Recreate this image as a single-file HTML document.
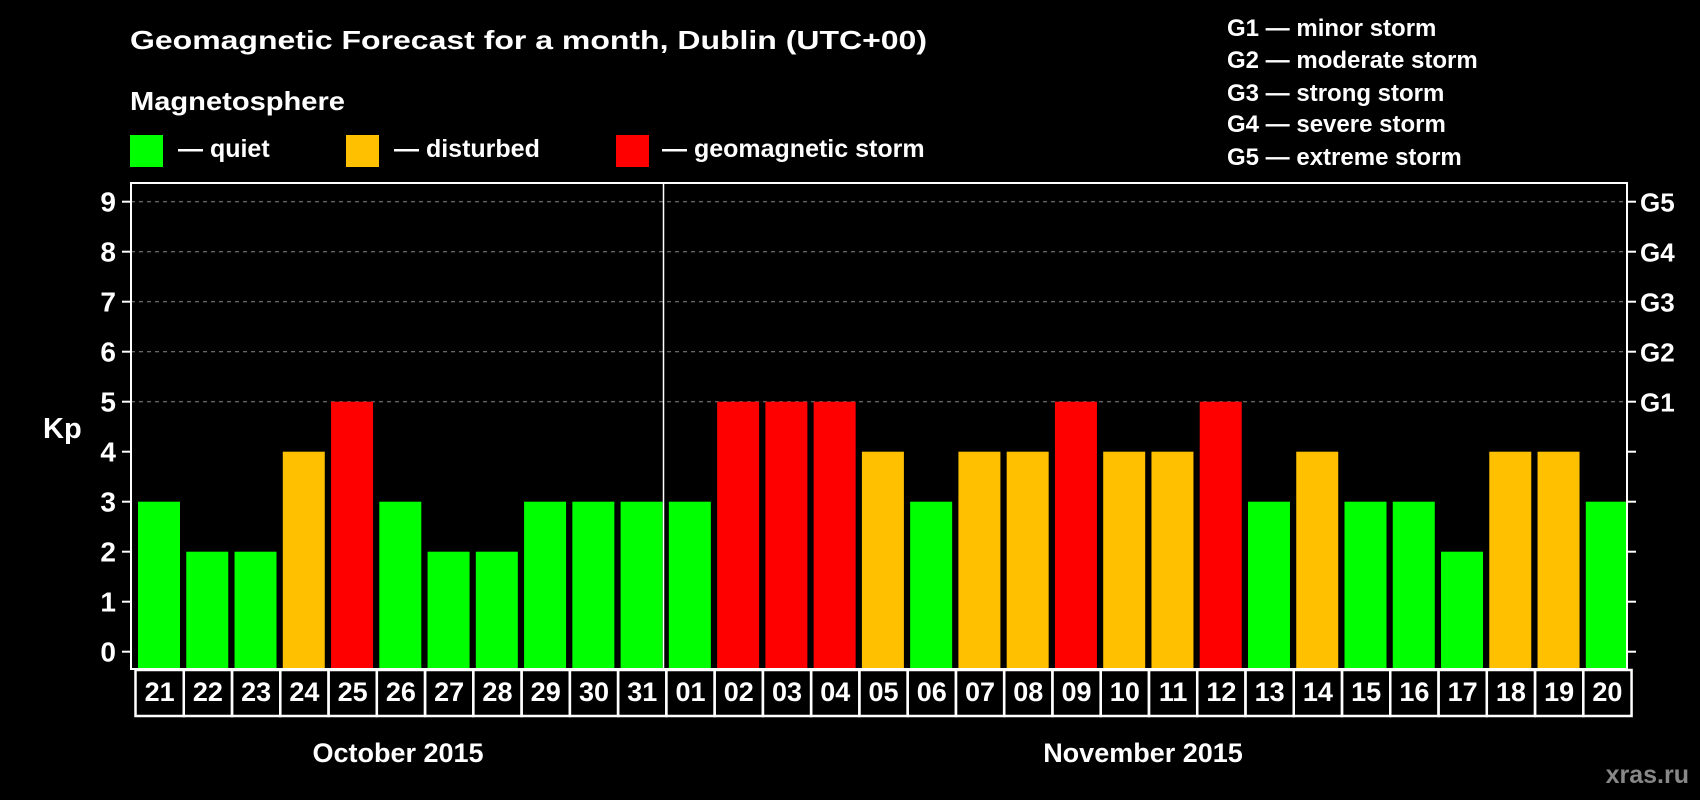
<!DOCTYPE html>
<html><head><meta charset="utf-8"><style>
html,body{margin:0;padding:0;background:#000;}
svg{display:block;font-family:"Liberation Sans",Arial,sans-serif;font-weight:bold;}
</style></head><body>
<svg id="chart" width="1700" height="800" viewBox="0 0 1700 800" xmlns="http://www.w3.org/2000/svg">
<rect x="0" y="0" width="1700" height="800" fill="#000"/>
<text x="130" y="49" fill="#fff" font-size="26" textLength="797" lengthAdjust="spacingAndGlyphs">Geomagnetic Forecast for a month, Dublin (UTC+00)</text>
<text x="130" y="110" fill="#fff" font-size="26" textLength="215" lengthAdjust="spacingAndGlyphs">Magnetosphere</text>
<g>
<rect x="130" y="135" width="33" height="32" fill="#00ff00"/>
<text x="178" y="157" fill="#fff" font-size="25">— quiet</text></g>
<g>
<rect x="346" y="135" width="33" height="32" fill="#ffc000"/>
<text x="394" y="157" fill="#fff" font-size="25">— disturbed</text></g>
<g>
<rect x="616" y="135" width="33" height="32" fill="#ff0000"/>
<text x="662" y="157" fill="#fff" font-size="25">— geomagnetic storm</text></g>
<g fill="#fff" font-size="24">
<text x="1227" y="36">G1 — minor storm</text>
<text x="1227" y="68">G2 — moderate storm</text>
<text x="1227" y="101">G3 — strong storm</text>
<text x="1227" y="132">G4 — severe storm</text>
<text x="1227" y="165">G5 — extreme storm</text>
</g>
<text x="43" y="438" fill="#fff" font-size="29">Kp</text>
<g id="grid"></g>
<g id="bars"></g>
<rect x="131" y="183" width="1496" height="486" fill="none" stroke="#fff" stroke-width="2"/>
<line x1="663.5" y1="183" x2="663.5" y2="669" stroke="#fff" stroke-width="1.5"/>
<g id="axes"></g>
<text x="398" y="762" fill="#fff" font-size="27" text-anchor="middle">October 2015</text>
<text x="1143" y="762" fill="#fff" font-size="27" text-anchor="middle">November 2015</text>
<text x="1689" y="783" fill="#888" font-size="25" text-anchor="end">xras.ru</text>
</svg>
<script>
const days = ["21","22","23","24","25","26","27","28","29","30","31","01","02","03","04","05","06","07","08","09","10","11","12","13","14","15","16","17","18","19","20"];
const kpValues = [3,2,2,4,5,3,2,2,3,3,3,3,5,5,5,4,3,4,4,5,4,4,5,3,4,3,3,2,4,4,3];
const yTicks = [0,1,2,3,4,5,6,7,8,9];
const gLabels = ["","","","","","G1","G2","G3","G4","G5"];
const NS="http://www.w3.org/2000/svg";
const left=131, right=1627, slot=48.26;
const y=v=>651.7-v*50;
const xs=i=>left+7+i*slot;
function mk(t,a,p){const e=document.createElementNS(NS,t);for(const k in a)e.setAttribute(k,a[k]);p.appendChild(e);return e;}
const grid=document.getElementById('grid'),bars=document.getElementById('bars'),axes=document.getElementById('axes');
yTicks.forEach((v,i)=>{
  if(v>=5){const l=mk('line',{x1:left,x2:right,y1:y(v),y2:y(v),stroke:'#888','stroke-dasharray':'4,4','stroke-width':1},grid);
  
  }
  const t1=mk('line',{x1:left-9,x2:left,y1:y(v),y2:y(v),stroke:'#fff','stroke-width':2},axes);
  
  
  const t2=mk('line',{x1:right,x2:right+9,y1:y(v),y2:y(v),stroke:'#fff','stroke-width':2},axes);
  
  
  const lab=mk('text',{x:116,y:y(v)+10,fill:'#fff','font-size':28,'text-anchor':'end'},axes);
  lab.textContent=v;
  
  
  if(gLabels[i]){const g=mk('text',{x:1640,y:y(v)+10,fill:'#fff','font-size':26},axes);
  g.textContent=gLabels[i];
  
  }
});
kpValues.forEach((v,i)=>{
  const c=v>=5?'#ff0000':(v>=4?'#ffc000':'#00ff00');
  const b=mk('rect',{x:xs(i),y:y(v),width:42,height:y(0)+16.3-y(v),fill:c},bars);
  
  
  const bx=mk('rect',{x:xs(i)-2.5,y:670,width:slot,height:46,fill:'none',stroke:'#fff','stroke-width':2.5},axes);
  
  
  const t=mk('text',{x:xs(i)-2.5+slot/2,y:701,fill:'#fff','font-size':27,'text-anchor':'middle'},axes);
  t.textContent=days[i];
  
  
});
</script>
</body></html>
